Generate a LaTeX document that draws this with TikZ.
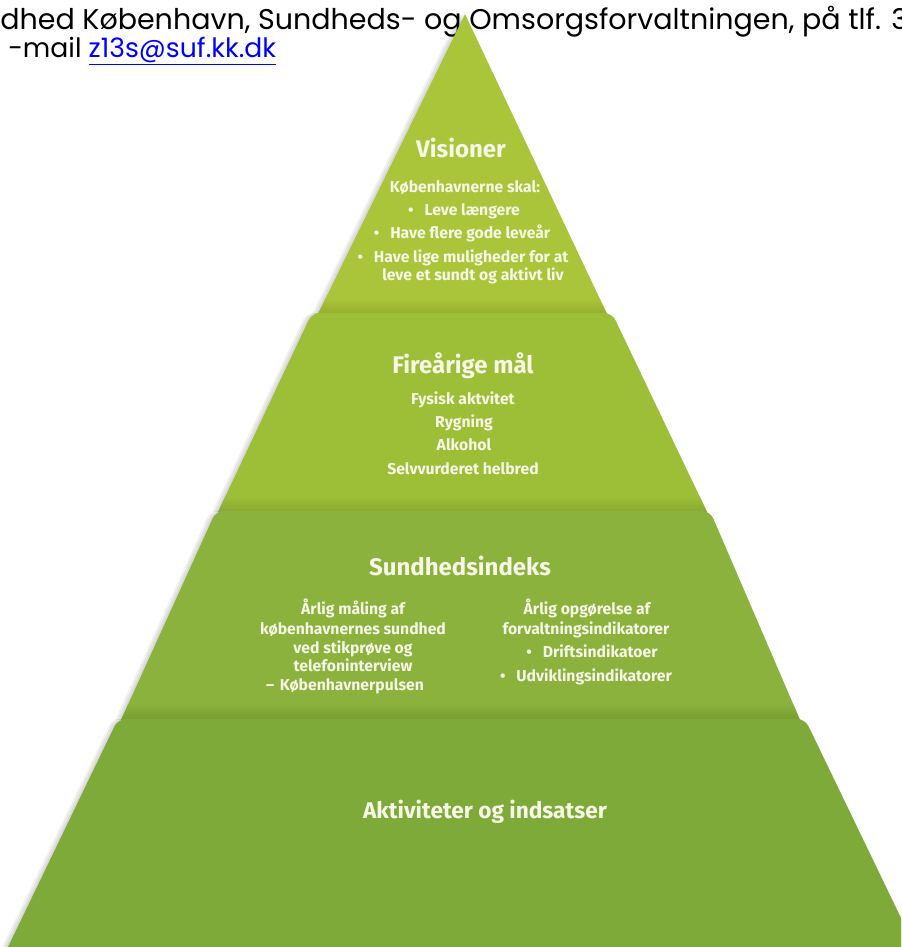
\documentclass[tikz,border=0pt]{standalone}
\usepackage{fontspec}
\setmainfont{Poppins}
\newfontfamily\din{Fira Sans}
\definecolor{cA}{HTML}{AAC53A}
\definecolor{cAd}{HTML}{95AE2E}
\definecolor{cB}{HTML}{9DBF38}
\definecolor{cBd}{HTML}{88A82F}
\definecolor{cC}{HTML}{8AB23C}
\definecolor{cCd}{HTML}{779C33}
\definecolor{cD}{HTML}{7EAA3A}
\definecolor{txt}{HTML}{F6F7E6}
\definecolor{linkblue}{HTML}{0000FF}
\newcommand{\bul}{•\hspace{0.7em}}
\tikzset{
  ttl/.style={text=txt, inner sep=0, anchor=base, font=\din\bfseries\fontsize{18}{21}\selectfont},
  bdy/.style={text=txt, inner sep=0, anchor=base, font=\din\bfseries\fontsize{11.8}{14}\selectfont},
  hdr/.style={inner sep=0, anchor=base west, font=\fontsize{20}{24}\selectfont},
  shad/.style={fill=black, opacity=0.05}
}
\begin{document}
\begin{tikzpicture}[x=0.75pt,y=-0.75pt]
\useasboundingbox (0,0) rectangle (901,947);
\clip (0,0) rectangle (901,947);
\fill[white] (0,0) rectangle (901,947);
% header text
\node[hdr, font=\fontsize{21.4}{24}\selectfont] (hdr1) at (0,29) {dhed København, Sundheds- og Omsorgsforvaltningen, på tlf. 3};
\node[hdr] (hdr2) at (8,57) {-mail \textcolor{linkblue}{\underline{z13s@suf.kk.dk}}};
% soft shadows (left side)
\foreach \d in {2,4,6}{
  \fill[shad] (318-\d,314) -- (465-\d,14) -- (607,314) -- cycle;
  \fill[shad] (218-\d,512) [rounded corners=6] -- (312-\d,313) -- (612,313) [sharp corners] -- (707,512) -- cycle;
  \fill[shad] (121-\d,720) [rounded corners=6] -- (216-\d,511) -- (710,511) [sharp corners] -- (800,720) -- cycle;
  \fill[shad] (8-\d,947) [rounded corners=6] -- (118-\d,719) -- (805,719) [sharp corners] -- (915,947) -- cycle;
}
% band 1
\fill[cA] (318,314) -- (465,14) -- (607,314) -- cycle;
\begin{scope}
\clip (318,314) -- (465,14) -- (607,314) -- cycle;
\shade[top color=cA, bottom color=cAd] (0,298) rectangle (901,314);
\end{scope}
% band 2
\fill[cB] (218,512) [rounded corners=6] -- (312,313) -- (612,313) [sharp corners] -- (707,512) -- cycle;
\begin{scope}
\clip (218,512) -- (312,313) -- (612,313) -- (707,512) -- cycle;
\shade[top color=cB, bottom color=cBd] (0,496) rectangle (901,512);
\end{scope}
% band 3
\fill[cC] (121,720) [rounded corners=6] -- (216,511) -- (710,511) [sharp corners] -- (800,720) -- cycle;
\begin{scope}
\clip (121,720) -- (216,511) -- (710,511) -- (800,720) -- cycle;
\shade[top color=cC, bottom color=cCd] (0,704) rectangle (901,720);
\end{scope}
% band 4
\fill[cD] (8,947) [rounded corners=6] -- (118,719) -- (805,719) [sharp corners] -- (915,947) -- cycle;
% texts level 1
\node[ttl] (vis) at (461,157) {Visioner};
\node[bdy] (v1) at (465,192) {Københavnerne skal:};
\node[bdy] (v2) at (464,215) {\bul Leve længere};
\node[bdy] (v3) at (462,238) {\bul Have flere gode leveår};
\node[bdy] (v4) at (463,262) {\bul Have lige muligheder for at};
\node[bdy] (v5) at (473,280) {leve et sundt og aktivt liv};
% level 2
\node[ttl] (fire) at (463,373) {Fireårige mål};
\node[bdy] (f1) at (463,404) {Fysisk aktvitet};
\node[bdy] (f2) at (464,427) {Rygning};
\node[bdy] (f3) at (464,450) {Alkohol};
\node[bdy] (f4) at (463,474) {Selvvurderet helbred};
% level 3
\node[ttl] (sund) at (460,575) {Sundhedsindeks};
\node[bdy] (l1) at (353,614) {Årlig måling af};
\node[bdy] (l2) at (353,634) {københavnernes sundhed};
\node[bdy] (l3) at (353,653) {ved stikprøve og};
\node[bdy] (l4) at (353,671) {telefoninterview};
\node[bdy] (l5) at (345,690) {–\hspace{0.35em}Københavnerpulsen};
\node[bdy] (r1) at (587,614) {Årlig opgørelse af};
\node[bdy] (r2) at (586,634) {forvaltningsindikatorer};
\node[bdy] (r3) at (592,657) {\bul Driftsindikatoer};
\node[bdy] (r4) at (586,681) {\bul Udviklingsindikatorer};
% level 4
\node[ttl, font=\din\bfseries\fontsize{17}{20}\selectfont] (akt) at (485,818) {Aktiviteter og indsatser};
\end{tikzpicture}
\end{document}
